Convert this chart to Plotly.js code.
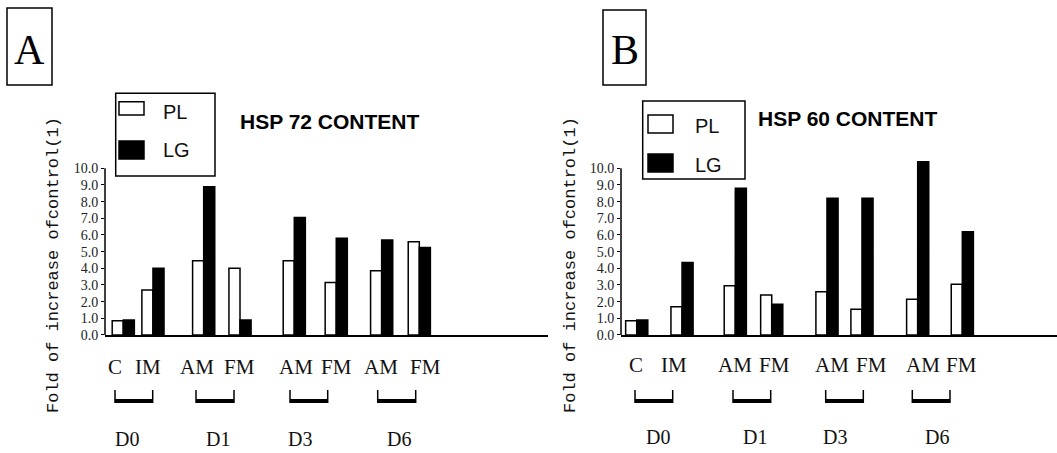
<!DOCTYPE html>
<html>
<head>
<meta charset="utf-8">
<script src="https://cdn.plot.ly/plotly-3.0.1.min.js"></script>
<style>html,body{margin:0;padding:0;background:#fff;}#chart{width:1057px;height:453px;}</style>
</head>
<body>
<div id="chart"></div>
<script>
// ---- data ----
const categories = ['C', 'IM', 'AM', 'FM', 'AM', 'FM', 'AM', 'FM'];
const days = ['D0', 'D1', 'D3', 'D6'];
const seriesNames = ['PL', 'LG'];
const hsp72PL = [0.85, 2.7, 4.45, 4.0, 4.45, 3.15, 3.85, 5.6];
const hsp72LG = [0.9, 4.0, 8.9, 0.9, 7.05, 5.8, 5.7, 5.25];
const hsp60PL = [0.85, 1.7, 2.95, 2.4, 2.6, 1.55, 2.15, 3.05];
const hsp60LG = [0.9, 4.35, 8.8, 1.85, 8.2, 8.2, 10.4, 6.2];
const yTickValues = [0, 1, 2, 3, 4, 5, 6, 7, 8, 9, 10];
const yTickLabels = ['0.0', '1.0', '2.0', '3.0', '4.0', '5.0', '6.0', '7.0', '8.0', '9.0', '10.0'];
const titles = ['HSP 72 CONTENT', 'HSP 60 CONTENT'];
const panelLetters = ['A', 'B'];
const yTitle = 'Fold of increase ofcontrol(1)';

// ---- layout (positions, in axis units / page pixels) ----
const W = 1057, H = 453;
const px = x => x / W;
const py = y => 1 - y / H;
const unitPx = 16.67;               // pixels per y unit
const yMax = 10.6;                  // visible data range (axis line drawn to 10)
const slotA = [1.65, 4.33, 8.91, 12.19, 17.09, 20.88, 24.98, 28.38];
const slotB = [1.42, 5.51, 10.32, 13.61, 18.6, 21.76, 26.79, 30.82];
const labelXA = [114.5, 148, 196.7, 239.7, 296, 336, 381, 425.5];
const labelXB = [636, 673.5, 735, 774.5, 831.7, 871, 923, 961];
const bracketA = [[115, 152.7], [196, 234], [290, 327.7], [377.7, 415.7]];
const bracketB = [[635, 672.7], [733, 770.7], [825.7, 863.3], [912.3, 950]];
const dayXA = [126.7, 218, 300, 399];
const dayXB = [658, 755, 834.5, 936.7];

function barTrace(x, y, name, fill, axisX, axisY, off) {
  return {
    type: 'bar', x: x, y: y, name: name, xaxis: axisX, yaxis: axisY,
    width: 1, offset: off, cliponaxis: false, showlegend: false,
    marker: { color: fill, line: { color: '#000', width: 1.5 } },
    hoverinfo: 'y'
  };
}

const data = [
  barTrace(slotA, hsp72PL, seriesNames[0], '#fff', 'x', 'y', -1),
  barTrace(slotA, hsp72LG, seriesNames[1], '#000', 'x', 'y', 0),
  barTrace(slotB, hsp60PL, seriesNames[0], '#fff', 'x2', 'y2', -1),
  barTrace(slotB, hsp60LG, seriesNames[1], '#000', 'x2', 'y2', 0)
];

const yDom = [py(335), py(335 - yMax * unitPx)];
const baseX = {
  showline: true, linecolor: '#000', linewidth: 1.5, showticklabels: false,
  ticks: '', showgrid: false, zeroline: false, fixedrange: true
};
const baseY = {
  range: [0, yMax], domain: yDom, showline: false,
  tickmode: 'array', tickvals: yTickValues, ticktext: yTickLabels,
  ticks: 'outside', ticklen: 3, tickwidth: 1, tickcolor: '#000',
  tickfont: { family: 'Liberation Serif', size: 14, color: '#222' },
  showgrid: false, zeroline: false, fixedrange: true
};

const shapes = [];
const annotations = [];
const serif = 'Liberation Serif';

function addPanel(p) {
  // y axis line from 0 to 10
  shapes.push({ type: 'line', xref: p.xa + ' domain', yref: p.ya, x0: 0, x1: 0, y0: 0, y1: yTickValues[yTickValues.length - 1], line: { color: '#000', width: 1.5 } });
  // panel letter box
  shapes.push({ type: 'rect', xref: 'paper', yref: 'paper', x0: px(p.box[0]), x1: px(p.box[2]), y0: py(p.box[1]), y1: py(p.box[3]), line: { color: '#000', width: 1.5 } });
  annotations.push({ text: p.letter, xref: 'paper', yref: 'paper', x: px((p.box[0] + p.box[2]) / 2), y: py(p.letterY), showarrow: false, xanchor: 'center', yanchor: 'middle', font: { family: serif, size: 42, color: '#000' } });
  // legend
  const L = p.leg;
  shapes.push({ type: 'rect', xref: 'paper', yref: 'paper', x0: px(L.box[0]), x1: px(L.box[2]), y0: py(L.box[1]), y1: py(L.box[3]), line: { color: '#000', width: 1.5 } });
  shapes.push({ type: 'rect', xref: 'paper', yref: 'paper', x0: px(L.sx[0]), x1: px(L.sx[1]), y0: py(L.s1[0]), y1: py(L.s1[1]), fillcolor: '#fff', line: { color: '#000', width: 1.5 } });
  shapes.push({ type: 'rect', xref: 'paper', yref: 'paper', x0: px(L.sx[0]), x1: px(L.sx[1]), y0: py(L.s2[0]), y1: py(L.s2[1]), fillcolor: '#000', line: { color: '#000', width: 1.5 } });
  annotations.push({ text: seriesNames[0], xref: 'paper', yref: 'paper', x: px(L.tx), y: py(L.t1), showarrow: false, xanchor: 'left', yanchor: 'middle', font: { family: 'Liberation Sans', size: 20, color: '#111' } });
  annotations.push({ text: seriesNames[1], xref: 'paper', yref: 'paper', x: px(L.tx), y: py(L.t2), showarrow: false, xanchor: 'left', yanchor: 'middle', font: { family: 'Liberation Sans', size: 20, color: '#111' } });
  // title
  annotations.push({ text: '<b>' + p.title + '</b>', xref: 'paper', yref: 'paper', x: px(p.titleX), y: py(p.titleY), showarrow: false, xanchor: 'center', yanchor: 'middle', font: { family: 'Liberation Sans', size: 21, color: '#000' } });
  // y title
  annotations.push({ text: yTitle, xref: 'paper', yref: 'paper', x: px(p.ytX), y: py(265), textangle: -90, showarrow: false, xanchor: 'center', yanchor: 'middle', font: { family: 'Liberation Mono', size: 17, color: '#111' } });
  // category labels
  categories.forEach((c, i) => {
    annotations.push({ text: c, xref: 'paper', yref: 'paper', x: px(p.labelX[i]), y: py(p.labelY), showarrow: false, xanchor: 'center', yanchor: 'middle', font: { family: serif, size: 21, color: '#111' } });
  });
  // brackets and day labels
  p.brackets.forEach((b, i) => {
    shapes.push({ type: 'line', xref: 'paper', yref: 'paper', x0: px(b[0]), x1: px(b[0]), y0: py(390), y1: py(403), line: { color: '#000', width: 1.5 } });
    shapes.push({ type: 'line', xref: 'paper', yref: 'paper', x0: px(b[1]), x1: px(b[1]), y0: py(390), y1: py(403), line: { color: '#000', width: 1.5 } });
    shapes.push({ type: 'rect', xref: 'paper', yref: 'paper', x0: px(b[0]), x1: px(b[1]), y0: py(399), y1: py(403), fillcolor: '#000', line: { width: 0 } });
    annotations.push({ text: days[i], xref: 'paper', yref: 'paper', x: px(p.dayX[i]), y: py(p.dayY), showarrow: false, xanchor: 'center', yanchor: 'middle', font: { family: serif, size: 20, color: '#111' } });
  });
}

addPanel({
  xa: 'x', ya: 'y',
  letter: panelLetters[0], box: [7, 8, 52, 85], letterY: 50,
  leg: { box: [115.7, 93.3, 215, 176], sx: [119, 144], s1: [101.7, 115], s2: [141, 159], tx: 161, t1: 112, t2: 150 },
  title: titles[0], titleX: 329, titleY: 121, ytX: 53,
  labelX: labelXA, labelY: 367, brackets: bracketA, dayX: dayXA, dayY: 439
});
addPanel({
  xa: 'x2', ya: 'y2',
  letter: panelLetters[1], box: [603, 10, 646, 85], letterY: 50,
  leg: { box: [642.7, 101, 745, 179], sx: [648, 673], s1: [115, 133], s2: [154, 172], tx: 693, t1: 126, t2: 165 },
  title: titles[1], titleX: 847.5, titleY: 118, ytX: 570,
  labelX: labelXB, labelY: 365, brackets: bracketB, dayX: dayXB, dayY: 437
});

const layout = {
  width: W, height: H,
  margin: { l: 0, r: 0, t: 0, b: 0, pad: 0 },
  paper_bgcolor: '#fff', plot_bgcolor: 'rgba(0,0,0,0)',
  barmode: 'overlay', showlegend: false,
  xaxis: Object.assign({}, baseX, { domain: [px(105), px(548)], range: [0, 40], anchor: 'y' }),
  yaxis: Object.assign({}, baseY, { anchor: 'x' }),
  xaxis2: Object.assign({}, baseX, { domain: [px(621), 1], range: [0, 39.37], anchor: 'y2' }),
  yaxis2: Object.assign({}, baseY, { anchor: 'x2' }),
  shapes: shapes, annotations: annotations
};

Plotly.newPlot('chart', data, layout, { staticPlot: true, displayModeBar: false });
</script>
</body>
</html>
